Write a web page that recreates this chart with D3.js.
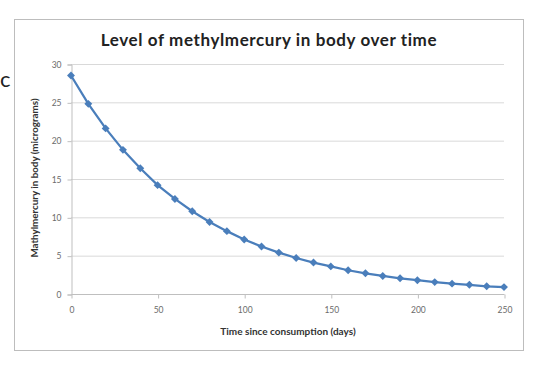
<!DOCTYPE html>
<html>
<head>
<meta charset="utf-8">
<script src="https://cdn.jsdelivr.net/npm/d3@7"></script>
<style>
  body { margin: 0; background: #fff; }
  text { font-family: Lato, "Open Sans", sans-serif; }
</style>
</head>
<body>
<svg width="544" height="370"></svg>
<script>
const days = [0, 10, 20, 30, 40, 50, 60, 70, 80, 90, 100, 110, 120, 130, 140, 150, 160, 170, 180, 190, 200, 210, 220, 230, 240, 250];
const micrograms = [28.5, 24.8, 21.6, 18.8, 16.4, 14.2, 12.4, 10.8, 9.4, 8.2, 7.1, 6.2, 5.4, 4.7, 4.1, 3.6, 3.1, 2.7, 2.35, 2.05, 1.8, 1.55, 1.35, 1.2, 1.0, 0.9];
const xTicks = [0, 50, 100, 150, 200, 250];
const yTicks = [0, 5, 10, 15, 20, 25, 30];

const svg = d3.select("svg");

// chart frame
svg.append("rect")
  .attr("x", 14.5).attr("y", 19.5)
  .attr("width", 509).attr("height", 331)
  .attr("fill", "#fff")
  .attr("stroke", "#bdbdbd");

// stray letter left of the frame
svg.append("text")
  .attr("x", 0).attr("y", 87)
  .attr("font-size", 22)
  .attr("fill", "#222")
  .text("c");

const x = d3.scaleLinear().domain([0, 250]).range([71, 504]);
const y = d3.scaleLinear().domain([0, 30]).range([294, 64]);

// gridlines
svg.append("g")
  .selectAll("line")
  .data(yTicks.filter(d => d > 0))
  .enter().append("line")
  .attr("x1", x(0)).attr("x2", x(250))
  .attr("y1", d => y(d) + 0.5).attr("y2", d => y(d) + 0.5)
  .attr("stroke", "#d9d9d9");

const yAxis = svg.append("g")
  .attr("transform", `translate(${x(0) + 0.5},0.5)`)
  .call(d3.axisLeft(y).tickValues(yTicks).tickSize(4).tickPadding(6));

const xAxis = svg.append("g")
  .attr("transform", `translate(0.5,${y(0) + 0.5})`)
  .call(d3.axisBottom(x).tickValues(xTicks).tickSize(4).tickPadding(8));

[xAxis, yAxis].forEach(g => {
  g.select(".domain").attr("stroke", "#bfbfbf");
  g.selectAll(".tick line").attr("stroke", "#bfbfbf");
  g.selectAll(".tick text")
    .attr("fill", "#6b6b6b")
    .attr("font-size", 8.5)
    .style("font-family", "Lato, sans-serif");
});
xAxis.select(".domain").remove();
xAxis.append("line")
  .attr("x1", x(0)).attr("x2", x(250))
  .attr("stroke", "#bfbfbf");

// series
const line = d3.line()
  .x((d, i) => x(days[i]))
  .y(d => y(d));

svg.append("path")
  .datum(micrograms)
  .attr("d", line)
  .attr("fill", "none")
  .attr("stroke", "#4a7ebb")
  .attr("stroke-width", 2.25);

svg.append("g")
  .selectAll("path")
  .data(micrograms)
  .enter().append("path")
  .attr("d", d3.symbol(d3.symbolDiamond2, 40))
  .attr("transform", (d, i) => `translate(${x(days[i])},${y(d)})`)
  .attr("fill", "#4a7ebb");

// titles
svg.append("text")
  .attr("x", 269).attr("y", 46)
  .attr("text-anchor", "middle")
  .attr("font-size", 17)
  .attr("letter-spacing", 0.6)
  .attr("font-weight", "bold")
  .attr("fill", "#222")
  .text("Level of methylmercury in body over time");

svg.append("text")
  .attr("x", 288).attr("y", 335)
  .attr("text-anchor", "middle")
  .attr("font-size", 10)
  .attr("font-weight", "bold")
  .attr("fill", "#333")
  .text("Time since consumption (days)");

svg.append("text")
  .attr("transform", "translate(38,178) rotate(-90)")
  .attr("text-anchor", "middle")
  .attr("font-size", 9.8)
  .attr("font-weight", "bold")
  .attr("fill", "#333")
  .text("Mathylmercury in body (micrograms)");
</script>
</body>
</html>
